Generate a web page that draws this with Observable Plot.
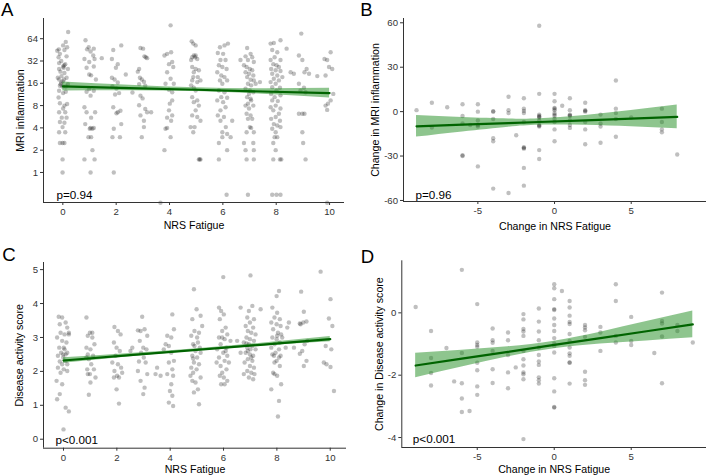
<!DOCTYPE html>
<html><head><meta charset="utf-8">
<script src="https://cdn.jsdelivr.net/npm/d3@7"></script>
<script src="https://cdn.jsdelivr.net/npm/@observablehq/plot@0.6"></script>
<style>
html,body{margin:0;padding:0;background:#fff;}
body{width:706px;height:475px;position:relative;overflow:hidden;font-family:"Liberation Sans",Arial,sans-serif;}
.panel{position:absolute;}
</style></head>
<body>
<div id="pA" class="panel" style="left:0;top:0"></div>
<div id="pB" class="panel" style="left:353px;top:0"></div>
<div id="pC" class="panel" style="left:0;top:237px"></div>
<div id="pD" class="panel" style="left:353px;top:237px"></div>
<script>
// ---------- Panel A: NRS Fatigue (jittered) vs MRI inflammation ----------
const aPoints = [
[0.2,79],[0.11,58],[0.01,52],[0.16,49],[-0.15,46],[-0.21,44],[0.06,45],[-0.11,40],[-0.16,36],[0.14,37],[-0.06,32],[-0.14,30],[0.09,29],[0.01,27],[-0.14,25],[0.19,25],[-0.09,23],[0.06,22],[-0.19,19],[-0.14,18],[0.04,18],[0.14,19],[-0.06,16.4],[-0.11,14.8],[-0.01,14.5],[0.11,14.5],[0.19,15.6],[-0.14,12.7],[0.01,11.8],[0.11,12.3],[-0.16,10.3],[-0.11,8.6],[0.06,8],[0.16,8.4],[0.01,7.3],[-0.14,6.5],[0.09,6.5],[-0.04,5.5],[0.14,5.5],[-0.11,4.8],[0.06,4.7],[-0.01,4.1],[-0.14,3.5],[0.09,3.5],[-0.11,2.5],[-0.01,2.5],[0.06,2.5],[-0.01,1.5],[-0.01,1],[-0.05,20],[0.0,17],[-0.08,15.5],[0.03,26],[0.05,28],
[0.85,61],[0.91,46],[0.81,34],[1.04,43],[1.14,38],[1.19,34],[0.99,31],[1.16,27],[0.89,26],[1.24,18],[0.99,13.4],[1.16,12.7],[1.04,10.9],[0.89,12.3],[0.81,7.6],[1.21,6.5],[0.89,6.5],[1.06,5.5],[1.11,3.9],[1.01,3.9],[0.84,4.5],[0.96,3.0],[1.06,3.0],[1.11,2.0],[0.81,1.5],[1.19,1.5],[1.04,1],[1.46,35],[0.99,21],[1.06,20.5],[0.97,49],[1.16,47],[1.04,4],[1.16,4],
[1.89,45],[2.19,52],[1.84,34],[2.06,29],[1.99,26],[2.36,21],[1.84,19],[1.94,18],[2.06,16.4],[1.86,14.5],[2.01,13.6],[2.11,11.8],[1.96,11.3],[1.89,7.6],[2.16,6.8],[2.06,6.5],[2.01,6.3],[2.19,4.5],[1.91,3.9],[1.86,3.0],[2.14,3.0],[1.91,1],[2.61,12],
[2.91,48],[3.01,47],[3.06,37],[2.86,25],[2.81,23],[2.89,19],[2.96,18],[3.04,16.8],[2.86,15.6],[3.09,14.8],[2.91,10.9],[2.99,10],[2.86,8.1],[3.09,7.2],[3.16,6.5],[3.31,6.5],[2.91,5.9],[3.04,5],[2.96,3],[3.04,4.1],[3.11,36],[3.16,35],
[4.04,97],[3.81,38],[3.91,40],[4.06,42],[4.1,31],[3.98,29],[4.14,26.5],[3.91,22.6],[4.04,18.4],[3.85,15.8],[4.16,15.8],[3.98,13.1],[4.1,12.1],[4.1,9.4],[4.01,8.5],[3.98,6.9],[4.1,5.9],[3.91,5.5],[4.06,5.0],[3.91,4],[3.85,3.9],[4.04,3],[3.81,2],[3.66,0.39],
[4.83,59],[4.89,55],[4.98,52],[4.91,38],[4.85,36],[4.81,33],[5.04,34],[4.85,26.5],[4.98,25],[5.1,24],[4.91,22.6],[4.85,17.5],[5.04,16.6],[4.81,15],[4.91,13.9],[4.98,12.8],[4.85,10.4],[5.04,9.4],[4.91,8.9],[5.1,8],[4.98,6.9],[4.85,5.9],[5.04,5.6],[5.16,5.0],[4.79,4.1],[4.94,4.1],[4.89,3.5],[5.1,1.5],[5.16,1.5],[5.13,1.5],[4.89,19.4],[5.06,19.4],[5.16,17.5],[4.96,36],[4.98,38],
[6.06,52],[6.19,55],[5.89,49],[6.01,40],[5.81,41],[5.91,33],[6.1,33],[5.85,28],[5.98,26.5],[6.14,25],[5.79,22.6],[5.94,20.4],[6.06,19.4],[5.89,17.5],[6.16,17.5],[5.98,15.8],[5.85,12.8],[6.06,12.1],[5.94,10.4],[6.16,10.2],[5.79,9.4],[6.01,8.9],[6.1,7.6],[5.91,6.9],[5.81,5.9],[6.04,5.6],[5.91,5.0],[6.35,5.0],[6.11,4.1],[5.98,3.5],[6.16,3.3],[6.29,3.0],[5.85,2.5],[5.98,3],[6.16,2],[5.85,1.5],[6.14,0.5],
[6.91,48],[6.85,37],[7.04,40],[7.1,36],[6.94,33],[7.16,31],[6.79,28],[6.89,26.5],[7.01,25],[7.1,24],[6.85,22.6],[6.98,21.5],[7.14,20.4],[6.91,19.4],[7.04,17.9],[7.16,17.5],[6.94,15.8],[7.06,15],[6.85,13.5],[7.01,12.8],[7.14,12.1],[6.98,11.5],[6.91,10.4],[7.04,9.9],[7.06,9.4],[6.94,8.5],[6.85,8],[7.14,8],[6.98,7.3],[6.89,6.2],[7.04,5.9],[6.94,5.3],[7.1,5.3],[7.01,4.1],[7.06,4],[6.89,3.5],[7.16,3.5],[6.79,2.5],[7.14,2.5],[6.85,2],[7.16,2],[6.89,1.5],[7.16,1.5],[6.94,0.5],[6.66,33],[7.39,16.6],[7.23,15.8],
[7.79,55],[7.91,56],[8.16,61],[7.85,45],[8.04,42],[7.94,36],[7.79,33],[8.16,33],[7.89,29],[8.01,28],[8.1,26.5],[7.81,25],[7.98,24],[8.16,23.4],[7.85,21.5],[8.04,20.4],[7.91,18.4],[7.79,16.6],[8.1,17.5],[7.98,15.8],[7.85,14.2],[8.14,13.9],[8.01,12.8],[7.81,11.5],[8.16,11],[7.94,10.4],[7.85,9.4],[8.06,9.2],[7.98,8],[7.79,7.6],[8.16,7.3],[7.89,6.9],[8.1,6.2],[7.98,5.6],[7.81,5.3],[8.14,5.0],[7.91,4.5],[8.04,4.3],[7.85,3.9],[8.16,4.1],[7.98,3.5],[7.94,3],[8.04,3],[7.89,2.5],[7.98,2],[7.89,1.5],[8.14,1.5],[8.19,1.5],[7.85,0.5],[8.01,0.5],[8.16,0.5],[8.39,47],[8.54,22.6],[8.23,19.4],
[8.94,75],[8.85,38],[8.98,33],[9.06,22.6],[9.14,25],[9.23,21.5],[8.91,12.8],[9.1,12.1],[8.85,6.2],[8.98,6.2],[9.06,6.2],[8.98,3.5],[9.01,2.5],[9.1,1.5],[8.85,15.8],[9.04,13.9],[8.66,21.5],[9.54,20],
[10.04,42],[9.81,34],[9.91,33],[9.98,26.5],[10.1,25],[9.85,20.4],[10.14,11.5],[9.94,8.5],[9.85,8],[10.04,9.4],[9.91,7],[9.91,0.39]
];
const aFitX = [0, 2.5, 5, 7.5, 10];
const aFit  = [14.5, 13.8, 13.1, 12.4, 11.8];
const aLo   = [12.6, 12.7, 12.4, 11.4, 10.1];
const aHi   = [16.6, 15.0, 13.9, 13.5, 13.7];
const aXTicks = [0, 2, 4, 6, 8, 10];
const aYTicks = [1, 2, 4, 8, 16, 32, 64];

// ---------- Panel B: change vs change ----------
const bPoints = [
[-9,1],[-8,6],[-8,-10.8],[-7,3],[-6,5],[-6,-3],[-6,-8],[-6,-29.5],[-6,-30],[-5.5,-9],[-5,5],[-5,0],[-5,-6],[-5,-9],[-5,-10],[-5,-37],[-4,0],[-4,0.3],[-4,-5],[-4,-18],[-4,-20],[-4,-52],[-3,10],[-3,1],[-3,-1],[-3,-55],[-2.5,-16],[-2,9],[-2,2],[-2,0.5],[-2,-1],[-2,-7],[-2,-24],[-2,-24.5],[-2,-25],[-2,-38],[-2,-50],[-1,58],[-1,12],[-1,-2],[-1,-3],[-1,-3.5],[-1,-4],[-1,-6],[-1,-9],[-1,-9.5],[-1,-10],[-1,-26],[-1,-32],[0,12],[0,7],[0,2],[0,2.5],[0,1],[0,-1],[0,-2],[0,-3],[0,-5],[0,-7],[0,-12],[0,-20],[0.5,4],[1,9],[1,1],[1,-2],[1,-2.5],[1,-3],[1,-6],[1,-9],[1,-11],[2,6],[2,1],[2,0.5],[2,0],[2,-7],[2,-12],[2,-22],[3,-2],[3,-8],[3,-10],[3,-21],[4,21],[4,2],[4,-1],[4,-5],[4,-17],[5,-4],[7,2],[7,-7],[7,-12],[7,-14],[8,-29]
];
const bFitX = [-9, -6, -3, -1, 2, 5, 8];
const bFit  = [-9.9, -8.8, -7.7, -7.0, -5.9, -4.75, -3.6];
const bLo   = [-17.2, -13.7, -10.5, -9.2, -9.2, -10.25, -11.6];
const bHi   = [-2.6, -3.9, -4.9, -4.8, -2.6, 0.75, 4.4];
const bXTicks = [-5, 0, 5];
const bYTicks = [-60, -30, 0, 30, 60];

// ---------- Panel C: NRS Fatigue vs Disease activity score ----------
const cPoints = [
[-0.18,3.61],[-0.05,3.59],[-0.14,3.39],[0.08,3.44],[0.14,3.29],[-0.11,3.14],[0.04,3.09],[0.2,3.09],[-0.24,3.0],[-0.05,2.9],[0.11,2.85],[-0.16,2.7],[0.01,2.7],[-0.09,2.55],[0.14,2.55],[-0.21,2.46],[-0.01,2.41],[0.08,2.31],[-0.14,2.29],[-0.05,2.21],[0.14,2.21],[-0.21,2.11],[0.01,2.06],[-0.11,1.96],[-0.26,1.72],[-0.05,1.62],[-0.14,1.33],[-0.24,1.18],[0.08,0.93],[0.2,0.82],[0,0.29],[0.2,3.14],[0.14,2.01],[0.04,2.65],[-0.01,2.5],[0.08,2.5],
[0.86,3.59],[0.99,3.14],[0.91,3.05],[1.08,3.0],[1.16,2.8],[0.86,2.7],[1.01,2.65],[0.91,2.5],[1.11,2.46],[0.95,2.36],[1.04,2.21],[0.89,2.06],[0.99,1.92],[0.91,1.92],[1.2,1.82],[1.01,1.67],[0.95,1.31],[1.14,2.06],[1.08,3.14],[0.86,2.41],
[1.91,3.31],[2.04,3.19],[2.14,3.09],[1.89,2.85],[1.99,2.7],[2.11,2.6],[1.95,2.46],[1.83,2.26],[2.04,2.21],[2.16,2.11],[1.91,2.01],[2.01,1.87],[2.08,1.82],[1.89,1.82],[1.99,1.47],[2.08,1.05],[2.2,1.96],[2.51,2.6],
[2.95,3.61],[2.79,3.21],[2.89,3.19],[3.04,3.24],[3.14,3.05],[2.86,2.9],[2.99,2.7],[3.11,2.65],[2.91,2.55],[3.01,2.41],[2.83,2.29],[3.08,2.26],[2.79,2.01],[3.14,1.92],[2.89,1.72],[3.04,1.52],[2.99,1.33],[2.58,2.7],
[3.89,3.05],[4.04,3.0],[4.14,3.24],[4.08,3.68],[3.95,2.75],[3.83,2.8],[4.04,2.55],[4.14,2.31],[3.95,2.26],[4.08,2.06],[3.89,1.92],[4.11,1.87],[4.04,1.62],[3.99,1.42],[4.08,1.28],[3.95,1.08],[4.11,0.98],[3.64,1.87],[3.45,1.92],[3.76,2.65],[3.51,2.11],
[4.89,4.42],[4.99,3.83],[4.83,3.54],[5.14,3.64],[4.91,3.19],[5.08,3.14],[4.79,3.05],[5.01,3.0],[5.2,3.34],[4.86,2.8],[5.11,2.7],[4.95,2.6],[4.83,2.46],[5.01,2.41],[4.89,2.26],[5.08,2.21],[4.79,2.11],[4.99,2.06],[4.86,1.96],[5.14,1.82],[4.83,1.72],[4.95,1.67],[5.04,1.47],[4.89,1.38],[5.08,1.03],[4.76,1.87],[5.14,2.55],[4.91,2.75],[5.04,2.85],[4.86,2.38],
[5.99,4.78],[5.83,3.88],[5.91,3.78],[6.01,3.68],[5.86,3.54],[6.08,3.29],[5.95,3.19],[6.14,3.09],[5.83,3.0],[6.04,2.95],[5.89,2.8],[6.11,2.7],[5.76,2.65],[5.99,2.55],[6.14,2.46],[5.83,2.41],[6.04,2.31],[5.89,2.16],[6.11,2.06],[5.95,1.96],[5.86,1.87],[6.01,1.82],[6.14,1.72],[5.91,1.62],[6.04,1.62],[5.74,2.26],[6.26,2.9],[6.2,2.26],[5.95,3.0],[6.08,2.6],
[7.01,4.83],[6.64,3.88],[6.95,3.78],[7.08,3.93],[6.89,3.59],[7.14,3.54],[6.99,3.44],[6.83,3.34],[7.11,3.29],[6.91,3.19],[7.04,3.14],[7.2,3.09],[6.86,3.0],[6.99,2.95],[7.14,2.9],[6.76,2.85],[6.95,2.8],[7.08,2.75],[6.89,2.7],[7.01,2.65],[7.2,2.65],[6.83,2.55],[6.99,2.5],[7.11,2.46],[6.91,2.36],[7.08,2.31],[6.79,2.26],[6.99,2.16],[7.14,2.11],[6.89,2.01],[7.04,1.96],[7.16,1.92],[6.76,1.92],[6.95,1.82],[7.11,1.77],[7.39,3.83],[6.51,2.9],[6.64,2.55],[6.91,2.6],[7.04,2.41],[6.86,2.82],
[8.08,4.37],[7.99,4.22],[7.83,3.88],[8.01,3.73],[7.91,3.59],[8.11,3.54],[7.79,3.44],[7.99,3.39],[8.14,3.34],[7.86,3.24],[8.04,3.14],[8.16,3.09],[7.83,3.0],[7.99,2.95],[8.11,2.85],[7.91,2.8],[7.79,2.7],[8.08,2.65],[7.95,2.55],[7.83,2.5],[8.14,2.46],[7.99,2.31],[7.91,2.26],[8.11,2.16],[7.86,1.96],[8.01,1.87],[8.16,1.62],[7.79,1.47],[8.08,1.13],[8.04,0.67],[8.39,3.29],[8.45,3.44],[8.2,3.0],[8.33,2.7],[8.64,2.7],[8.01,3.05],[7.89,2.46],[8.08,2.41],[7.91,1.92],
[8.91,4.35],[8.86,3.41],[8.99,3.44],[9.11,3.47],[9.01,3.76],[9.14,2.9],[9.04,2.8],[8.95,2.6],[8.86,2.52],[9.11,2.31],[9.01,2.16],[8.89,3.39],
[9.64,4.94],[10.01,4.13],[9.95,3.56],[10.08,3.34],[9.83,2.75],[10.04,2.65],[9.76,2.26],[9.86,2.21],[10.01,2.13],[10.14,1.42]
];
const cFitX = [0, 2.5, 5, 7.5, 10];
const cFit  = [2.32, 2.48, 2.635, 2.79, 2.95];
const cLo   = [2.24, 2.43, 2.60, 2.75, 2.87];
const cHi   = [2.40, 2.53, 2.67, 2.84, 3.03];
const cXTicks = [0, 2, 4, 6, 8, 10];
const cYTicks = [0, 1, 2, 3, 4, 5];

// ---------- Panel D: change vs change ----------
const dPoints = [
[-9,0.19],[-8,-0.58],[-8,-1.45],[-8,-1.93],[-8,-2.33],[-7,-1.13],[-6.5,-2.2],[-6,1.38],[-6,-1.29],[-6,-2.26],[-6,-2.75],[-6,-3.18],[-5.5,-3.15],[-5,0.28],[-5,-0.95],[-5,-1.03],[-5,-1.09],[-5,-1.6],[-5,-1.84],[-5,-2.36],[-5,-2.63],[-4,-0.5],[-4,-0.88],[-4,-0.96],[-4,-1.22],[-4,-1.81],[-4,-2.25],[-3,-0.63],[-3,-0.88],[-3,-1.35],[-3,-1.91],[-3,-2.42],[-2.5,-1.75],[-2,-0.04],[-2,-0.21],[-2,-0.52],[-2,-0.6],[-2,-0.74],[-2,-1.22],[-2,-1.49],[-2,-1.69],[-2,-1.91],[-2,-1.97],[-2,-2.13],[-2,-4.05],[-1,0.14],[-1,-0.28],[-1,-0.6],[-1,-0.88],[-1,-1.11],[-1,-1.35],[-1,-1.56],[-1,-1.67],[-1,-2.07],[-1,-2.16],[-1,-2.27],[0,0.92],[0,0.79],[0,0.44],[0,0.12],[0,0.09],[0,-0.18],[0,-0.39],[0,-0.58],[0,-0.81],[0,-0.98],[0,-1.06],[0,-1.27],[0,-2.1],[0,-2.52],[0,-3.02],[0,-3.04],[0.5,0.7],[1,0.38],[1,0.17],[1,-0.09],[1,-0.29],[1,-0.36],[1,-0.68],[1,-0.9],[1,-1.11],[1,-1.3],[1,-1.38],[1,-1.59],[1,-1.6],[1,-2.27],[2,-0.39],[2,-0.47],[2,-0.56],[2,-0.77],[2,-1.89],[2,-2.16],[2,-2.31],[3,-0.45],[3,-0.63],[3,-1.22],[4,0.92],[4,0.38],[4,-0.74],[4,-0.95],[5,-0.13],[5,-0.9],[5,-1.03],[6.5,-1.29],[7,0.65],[7,-0.26],[7,-0.34],[7,-0.76],[7,-2.26],[8,-0.39],[8,-0.58],[9,-0.95]
];
const dFitX = [-9, -6, -3, 0, 3, 6, 9];
const dFit  = [-1.69, -1.47, -1.25, -1.03, -0.81, -0.59, -0.37];
const dLo   = [-2.08, -1.74, -1.41, -1.15, -1.00, -0.90, -0.80];
const dHi   = [-1.30, -1.20, -1.09, -0.91, -0.62, -0.28, 0.06];
const dXTicks = [-5, 0, 5];
const dYTicks = [-4, -2, 0];

const pValues = ["p=0.94", "p=0.96", "p<0.001", "p<0.001"];
const letters = ["A", "B", "C", "D"];
const xTitles = ["NRS Fatigue", "Change in NRS Fatigue", "NRS Fatigue", "Change in NRS Fatigue"];
const yTitles = ["MRI inflammation", "Change in MRI inflammation", "Disease activity score", "Change in Disease activity score"];

const FONT = '"Liberation Sans", Arial, Helvetica, sans-serif';
const AX = "#333333";

function panel(el, c) {
  const pts = c.pts.map(([x, y]) => ({x, y}));
  const fit = c.fitX.map((x, i) => ({x, y: c.fit[i], lo: c.lo[i], hi: c.hi[i]}));
  const fmt = d => String(d);
  const yScale = {domain: c.yd};
  if (c.log) { yScale.type = "log"; yScale.base = 2; }
  const chart = Plot.plot({
    width: c.w, height: c.h,
    marginLeft: c.ml, marginTop: c.mt, marginRight: c.mr, marginBottom: c.mb,
    style: {fontFamily: FONT, fontSize: "10px", background: "white", color: "#000", overflow: "visible"},
    x: {domain: c.xd},
    y: yScale,
    marks: [
      Plot.dot(pts, {x: "x", y: "y", r: 2.2, fill: "#000", fillOpacity: 0.25, stroke: null}),
      Plot.areaY(fit, {x: "x", y1: "lo", y2: "hi", fill: "#1e8c1e", fillOpacity: 0.5, curve: "natural"}),
      Plot.line(fit, {x: "x", y: "y", stroke: "#006400", strokeWidth: 2.2}),
      Plot.ruleX([c.xd[0]], {stroke: AX, strokeWidth: 1}),
      Plot.ruleY([c.yd[0]], {stroke: AX, strokeWidth: 1}),
      Plot.axisX(c.xt, {tickSize: 3, tickPadding: 2.5, tickFormat: fmt, label: null, color: AX, fontSize: 9.6}),
      Plot.axisY(c.yt, {tickSize: 3, tickPadding: 2.5, tickFormat: fmt, label: null, color: AX, fontSize: 9.6}),
      Plot.text([c.p], {text: d => d, frameAnchor: "bottom-left", dx: c.pdx, dy: c.pdy, fontSize: 11.7, fill: "#000"}),
      Plot.text([c.xlabel], {text: d => d, frameAnchor: "bottom", textAnchor: "middle", lineAnchor: "middle", dy: c.xdy, fontSize: 10.6, fill: "#000"}),
      Plot.text([c.ylabel], {text: d => d, frameAnchor: "left", textAnchor: "middle", lineAnchor: "middle", rotate: -90, dx: c.ydx, fontSize: 10.6, fill: "#000"}),
      Plot.text([c.letter], {text: d => d, frameAnchor: "top-left", textAnchor: "start", lineAnchor: "bottom", dx: c.ldx, dy: c.ldy, fontSize: 18.6, fill: "#000"})
    ]
  });
  document.getElementById(el).appendChild(chart);
}

panel("pA", {w: 353, h: 237, ml: 43, mt: 18, mr: 9, mb: 35, xd: [-0.725, 10.56], yd: [0.393, 120], log: true,
  xt: aXTicks, yt: aYTicks, pts: aPoints, fitX: aFitX, fit: aFit, lo: aLo, hi: aHi,
  p: pValues[0], pdx: 13, pdy: -4, xlabel: xTitles[0], xdy: 23, ylabel: yTitles[0], ydx: -23,
  letter: letters[0], ldx: -42.5, ldy: -3});
panel("pB", {w: 353, h: 237, ml: 50, mt: 18, mr: 0, mb: 36, xd: [-9.85, 9.91], yd: [-60.7, 62.9],
  xt: bXTicks, yt: bYTicks, pts: bPoints, fitX: bFitX, fit: bFit, lo: bLo, hi: bHi,
  p: pValues[1], pdx: 12, pdy: -3, xlabel: xTitles[1], xdy: 24.6, ylabel: yTitles[1], ydx: -28,
  letter: letters[1], ldx: -43.3, ldy: -3});
panel("pC", {w: 353, h: 238, ml: 43, mt: 25, mr: 7, mb: 27.3, xd: [-0.75, 10.61], yd: [-0.265, 5.21],
  xt: cXTicks, yt: cYTicks, pts: cPoints, fitX: cFitX, fit: cFit, lo: cLo, hi: cHi,
  p: pValues[2], pdx: 12, pdy: -4.4, xlabel: xTitles[2], xdy: 21.6, ylabel: yTitles[2], ydx: -24,
  letter: letters[2], ldx: -41.3, ldy: -1.7});
panel("pD", {w: 353, h: 238, ml: 48.3, mt: 23.3, mr: 0, mb: 28, xd: [-9.9, 9.89], yd: [-4.32, 1.67],
  xt: dXTicks, yt: dYTicks, pts: dPoints, fitX: dFitX, fit: dFit, lo: dLo, hi: dHi,
  p: pValues[3], pdx: 11, pdy: -5, xlabel: xTitles[3], xdy: 22.3, ylabel: yTitles[3], ydx: -22,
  letter: letters[3], ldx: -41, ldy: 1.7});
</script>
</body></html>
